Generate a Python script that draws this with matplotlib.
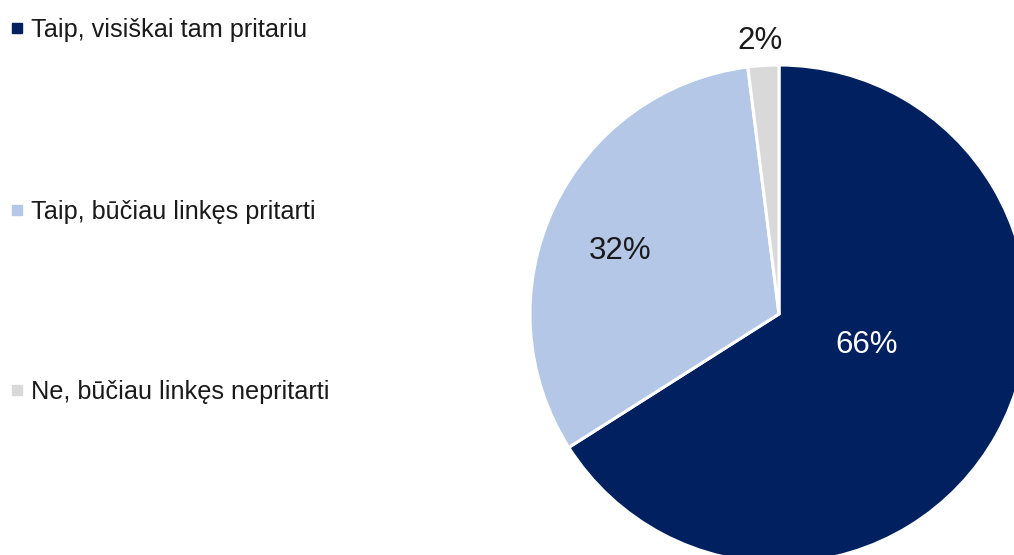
import matplotlib.pyplot as plt
from matplotlib.patches import Rectangle

labels = ["Taip, visiškai tam pritariu", "Taip, būčiau linkęs pritarti", "Ne, būčiau linkęs nepritarti"]
values = [66, 32, 2]
colors = ["#002060", "#B4C7E7", "#D9D9D9"]
pct_colors = ["white", "#1a1a1a", "#1a1a1a"]

plt.rcParams['font.family'] = ['Liberation Sans', 'DejaVu Sans']

fig = plt.figure(figsize=(10.14, 5.55), dpi=100)

# pie axes, partly outside the figure like the original
W, H = 1014, 555
cx, cy, r = 779, 314, 249
ax = fig.add_axes([(cx - r) / W, (H - cy - r) / H, 2 * r / W, 2 * r / H])
wedges, _ = ax.pie(values, colors=colors, startangle=90, counterclock=False,
                   wedgeprops=dict(edgecolor="white", linewidth=2.2))
ax.set_xlim(-1, 1)
ax.set_ylim(-1, 1)
ax.set_aspect("equal")
ax.axis("off")

label_pos = [(0.35, -0.125), (-0.64, 0.255), (-0.075, 1.095)]
for v, (x, y), c in zip(values, label_pos, pct_colors):
    ax.text(x, y, f"{v}%", ha="center", va="center", fontsize=22.5, color=c, clip_on=False)

# legend on the left
leg_y = [30, 212, 392]
for lab, col, y in zip(labels, colors, leg_y):
    fig.add_artist(Rectangle((12 / W, 1 - (y + 3) / H), 10 / W, 10 / H,
                             transform=fig.transFigure, color=col))
    fig.text(31 / W, 1 - y / H, lab, ha="left", va="center", fontsize=18.2, color="#1a1a1a")

fig.savefig("out.png", dpi=100)
